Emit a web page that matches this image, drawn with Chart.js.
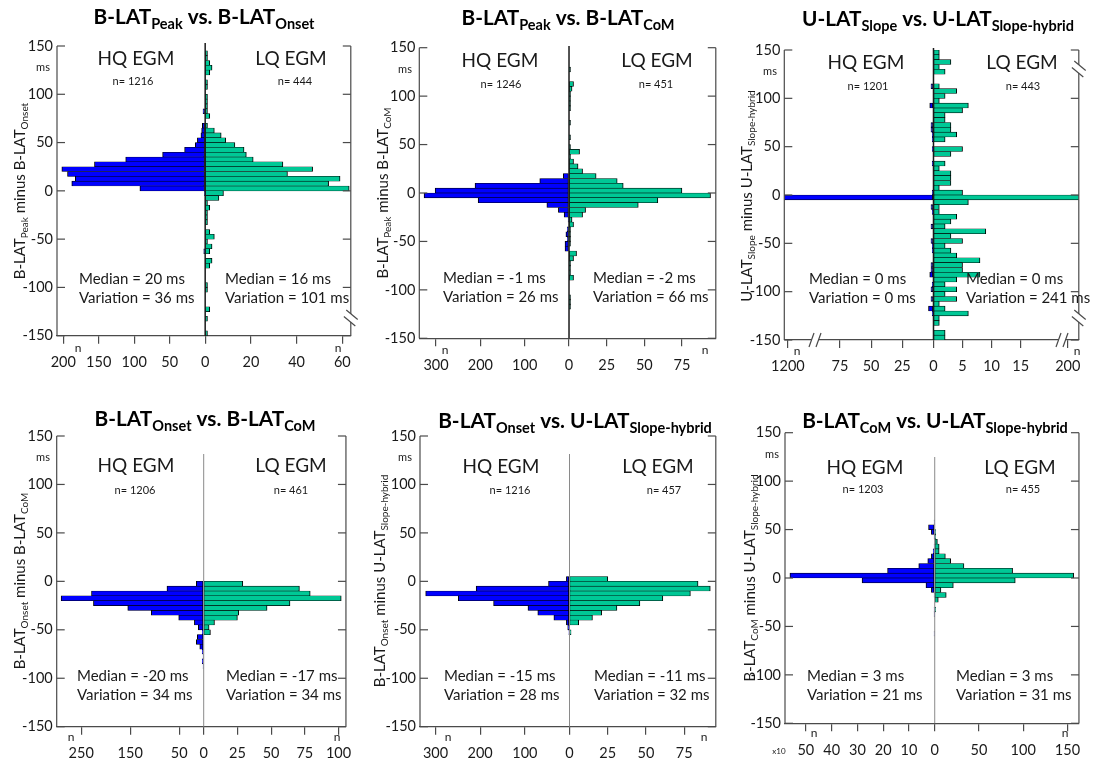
<!DOCTYPE html>
<html>
<head>
<meta charset="utf-8">
<script src="https://cdn.jsdelivr.net/npm/chart.js@4.4.1/dist/chart.umd.min.js"></script>
<style>
  html, body { margin: 0; padding: 0; background: #fff; }
  #wrap { position: relative; width: 1096px; height: 762px; overflow: hidden; }
  #wrap canvas { position: absolute; }
</style>
</head>
<body>
<div id="wrap"></div>
<script>
const FONT = 'Lato, "Open Sans", sans-serif'
const HQ_COLOR = '#0000ff'
const LQ_COLOR = '#00c896'
const AXIS_COLOR = '#4a4a4a'
const TEXT_COLOR = '#1a1a1a'

// histogram bins of 5 ms, centres from top (+150) to bottom (-150)
const BIN_CENTERS = [
  147.5, 142.5, 137.5, 132.5, 127.5, 122.5, 117.5, 112.5, 107.5, 102.5,
  97.5, 92.5, 87.5, 82.5, 77.5, 72.5, 67.5, 62.5, 57.5, 52.5,
  47.5, 42.5, 37.5, 32.5, 27.5, 22.5, 17.5, 12.5, 7.5, 2.5,
  -2.5, -7.5, -12.5, -17.5, -22.5, -27.5, -32.5, -37.5, -42.5, -47.5,
  -52.5, -57.5, -62.5, -67.5, -72.5, -77.5, -82.5, -87.5, -92.5, -97.5,
  -102.5, -107.5, -112.5, -117.5, -122.5, -127.5, -132.5, -137.5, -142.5, -147.5
]
const Y_TICKS = [-150, -100, -50, 0, 50, 100, 150]

// counts per bin (same order as BIN_CENTERS)
const P1_HQ = [
  0, 0, 0, 0, 0, 0, 0, 0, 0, 0,
  0, 0, 0, 3, 0, 0, 4, 5, 6, 11,
  14, 29, 60, 112, 156, 202, 194, 183, 188, 92,
  1, 0, 0, 0, 0, 0, 0, 0, 0, 0,
  0, 0, 2, 0, 0, 0, 0, 0, 0, 0,
  0, 0, 0, 0, 0, 0, 0, 0, 0, 0
]
const P1_LQ = [
  0, 1, 1, 2, 3, 2, 0, 1, 1, 0,
  1, 1, 1, 1, 2, 0, 1, 4, 7, 9,
  13, 17, 18, 21, 34, 47, 36, 59, 54, 63,
  8, 6, 1, 2, 1, 1, 1, 0, 2, 4,
  1, 3, 2, 0, 3, 2, 0, 0, 0, 1,
  1, 0, 0, 0, 2, 0, 1, 0, 0, 1
]
const P2_HQ = [
  0, 0, 0, 0, 0, 0, 0, 0, 0, 0,
  0, 0, 0, 0, 0, 0, 0, 0, 0, 0,
  0, 0, 0, 0, 0, 0, 13, 66, 212, 302,
  327, 205, 50, 24, 11, 2, 0, 4, 7, 4,
  9, 9, 0, 0, 0, 0, 0, 0, 0, 0,
  0, 0, 0, 0, 0, 0, 0, 0, 0, 0
]
const P2_LQ = [
  0, 0, 0, 0, 1, 0, 0, 3, 2, 1,
  1, 1, 1, 0, 0, 1, 0, 0, 1, 0,
  1, 7, 1, 3, 6, 9, 18, 32, 36, 75,
  94, 59, 46, 11, 9, 2, 3, 1, 1, 1,
  1, 0, 5, 3, 1, 1, 1, 3, 0, 0,
  0, 1, 1, 1, 0, 0, 0, 0, 0, 0
]
const P3_HQ = [
  0, 0, 0, 0, 0, 0, 0, 2, 0, 0,
  0, 3, 0, 0, 0, 2, 2, 1, 1, 0,
  1, 0, 0, 1, 0, 0, 0, 0, 0, 1,
  1190, 0, 2, 1, 0, 0, 2, 0, 0, 2,
  1, 1, 0, 0, 2, 2, 3, 0, 1, 2,
  0, 2, 0, 4, 1, 0, 0, 0, 0, 0
]
const P3_LQ = [
  1, 1, 3, 1, 2, 0, 0, 1, 4, 2,
  1, 6, 5, 2, 2, 3, 3, 4, 2, 0,
  5, 3, 0, 2, 1, 3, 3, 3, 1, 5,
  200, 6, 1, 1, 4, 3, 2, 9, 3, 5,
  2, 3, 4, 8, 5, 5, 8, 4, 2, 4,
  2, 4, 1, 2, 6, 1, 1, 0, 2, 2
]
const P4_HQ = [
  0, 0, 0, 0, 0, 0, 0, 0, 0, 0,
  0, 0, 0, 0, 0, 0, 0, 0, 0, 0,
  0, 0, 0, 0, 0, 0, 0, 0, 0, 0,
  15, 75, 229, 291, 225, 155, 107, 51, 19, 11,
  3, 13, 15, 8, 3, 1, 3, 1, 0, 0,
  0, 0, 0, 0, 0, 0, 0, 0, 0, 0
]
const P4_LQ = [
  0, 0, 0, 0, 0, 0, 0, 0, 0, 0,
  0, 0, 0, 0, 0, 0, 0, 0, 0, 0,
  0, 0, 0, 0, 0, 0, 0, 0, 0, 0,
  29, 71, 79, 102, 64, 47, 26, 25, 8, 4,
  5, 0, 0, 0, 0, 0, 0, 0, 0, 0,
  0, 0, 0, 0, 0, 0, 0, 0, 0, 0
]
const P5_HQ = [
  0, 0, 0, 0, 0, 0, 0, 0, 0, 0,
  0, 0, 0, 0, 0, 0, 0, 0, 0, 0,
  0, 0, 0, 0, 0, 0, 0, 0, 0, 7,
  47, 209, 322, 249, 170, 93, 71, 35, 7, 4,
  1, 0, 0, 0, 0, 0, 0, 0, 0, 0,
  0, 0, 0, 0, 0, 0, 0, 0, 0, 0
]
const P5_LQ = [
  0, 0, 0, 0, 0, 0, 0, 0, 0, 0,
  0, 0, 0, 0, 0, 0, 0, 0, 0, 0,
  0, 0, 0, 0, 0, 0, 0, 0, 0, 25,
  84, 92, 79, 61, 46, 31, 21, 15, 6, 0,
  1, 0, 0, 0, 0, 0, 0, 0, 0, 0,
  0, 0, 0, 0, 0, 0, 0, 0, 0, 0
]
const P6_HQ = [
  0, 0, 0, 0, 0, 0, 0, 0, 0, 0,
  0, 0, 0, 0, 0, 0, 0, 0, 2, 24,
  13, 1, 0, 2, 6, 13, 27, 62, 183, 562,
  282, 34, 13, 2, 0, 0, 2, 1, 0, 0,
  0, 2, 0, 0, 0, 0, 0, 0, 0, 0,
  0, 0, 0, 0, 0, 0, 0, 0, 0, 0
]
const P6_LQ = [
  0, 0, 0, 0, 0, 0, 0, 0, 0, 0,
  0, 0, 0, 0, 0, 0, 0, 0, 0, 0,
  1, 1, 3, 5, 5, 12, 18, 33, 88, 157,
  91, 21, 7, 13, 4, 0, 1, 0, 0, 0,
  0, 0, 0, 0, 0, 0, 0, 0, 0, 0,
  0, 0, 0, 0, 0, 0, 0, 0, 0, 0
]

const HQ_SERIES = [P1_HQ, P2_HQ, P3_HQ, P4_HQ, P5_HQ, P6_HQ]
const LQ_SERIES = [P1_LQ, P2_LQ, P3_LQ, P4_LQ, P5_LQ, P6_LQ]

// texts (_{...} marks a subscript)
const TITLES = [
  'B-LAT_{Peak} vs. B-LAT_{Onset}',
  'B-LAT_{Peak} vs. B-LAT_{CoM}',
  'U-LAT_{Slope} vs. U-LAT_{Slope-hybrid}',
  'B-LAT_{Onset} vs. B-LAT_{CoM}',
  'B-LAT_{Onset} vs. U-LAT_{Slope-hybrid}',
  'B-LAT_{CoM} vs. U-LAT_{Slope-hybrid}'
]
const Y_TITLES = [
  'B-LAT_{Peak} minus B-LAT_{Onset}',
  'B-LAT_{Peak} minus B-LAT_{CoM}',
  'U-LAT_{Slope} minus U-LAT_{Slope-hybrid}',
  'B-LAT_{Onset} minus B-LAT_{CoM}',
  'B-LAT_{Onset} minus U-LAT_{Slope-hybrid}',
  'B-LAT_{CoM} minus U-LAT_{Slope-hybrid}'
]
const N_HQ = [1216, 1246, 1201, 1206, 1216, 1203]
const N_LQ = [444, 451, 443, 461, 457, 455]
const MEDIAN_HQ = [20, -1, 0, -20, -15, 3]
const MEDIAN_LQ = [16, -2, 0, -17, -11, 3]
const VARIATION_HQ = [36, 26, 0, 34, 28, 21]
const VARIATION_LQ = [101, 66, 241, 34, 32, 31]

// x tick values (counts) for the HQ (left) and LQ (right) half axes
const HQ_TICKS = [
  [200, 150, 100, 50, 0],
  [300, 200, 100, 0],
  [75, 50, 25, 0],
  [250, 150, 50, 0],
  [300, 200, 100, 0],
  [500, 400, 300, 200, 100, 0]
]
const LQ_TICKS = [
  [20, 40, 60],
  [25, 50, 75],
  [5, 10, 15],
  [25, 50, 75, 100],
  [25, 50, 75],
  [50, 100, 150]
]
// labels at the end of broken axes (panel 3)
const BREAK_LABELS = [null, null, { hq: '1200', lq: '200' }, null, null, null]

// panel placement and geometry (pixels)
const LAYOUT = [
  { x: 0, y: 0, w: 365, h: 380, area: [57, 46, 355, 335.7], zero: 207.3, hqMax: 208.8, lqMax: 63.7,
    title: [204, 24], yTitle: [25, 191], hq: [136, 59], lq: [291, 59], nHq: [133, 81], nLq: [295, 81],
    ms: [43, 67], statHq: [79, 279], statLq: [225, 279], nMark: [78, 338, 348], centerTop: 43, dark: true,
    breakY: [318], breakX: [] },
  { x: 365, y: 0, w: 365, h: 380, area: [54.3, 47.7, 357.3, 338.3], zero: 207.3, hqMax: 337.7, lqMax: 97.5,
    title: [203, 25], yTitle: [23, 193], hq: [135, 61], lq: [292, 61], nHq: [136, 84], nLq: [291, 84],
    ms: [40, 69], statHq: [78, 278], statLq: [228, 278], nMark: [80, 340, 350], centerTop: 46, dark: true,
    breakY: [], breakX: [] },
  { x: 730, y: 0, w: 366, h: 380, area: [54.3, 50, 358.3, 340], zero: 208.3, hqMax: 119.6, lqMax: 25,
    title: [208, 26], yTitle: [22, 196], hq: [136, 63], lq: [292, 63], nHq: [138, 86], nLq: [293, 86],
    ms: [40, 71], statHq: [79, 279], statLq: [236, 279], nMark: [67, 347, 351], centerTop: 48, dark: true,
    breakY: [69, 318], breakX: [85, 332], hqBreakAt: 116.7, lqBreakAt: 23.1 },
  { x: 0, y: 380, w: 365, h: 382, area: [56.7, 56, 355, 346.7], zero: 208.3, hqMax: 300, lqMax: 105.5,
    title: [205, 46], yTitle: [25, 201], hq: [136, 86], lq: [291, 86], nHq: [135, 110], nLq: [291, 110],
    ms: [43, 77], statHq: [77, 296], statLq: [226, 296], nMark: [71, 337, 357], centerTop: 74, dark: false,
    breakY: [], breakX: [] },
  { x: 365, y: 380, w: 365, h: 382, area: [55, 56, 358.3, 346.7], zero: 208.3, hqMax: 334.7, lqMax: 95.6,
    title: [210, 48], yTitle: [20, 201], hq: [136, 87], lq: [293, 87], nHq: [145, 110], nLq: [299, 110],
    ms: [40, 77], statHq: [79, 296], statLq: [229, 296], nMark: [83, 339, 357], centerTop: 74, dark: false,
    breakY: [], breakX: [] },
  { x: 730, y: 380, w: 366, h: 382, area: [55, 52.7, 354, 343.3], zero: 207.3, hqMax: 581, lqMax: 163,
    title: [205, 48], yTitle: [25, 198], hq: [135, 88], lq: [290, 88], nHq: [133, 109], nLq: [293, 109],
    ms: [42, 74], statHq: [77, 296], statLq: [226, 296], nMark: [84, 335, 353], centerTop: 77, dark: false,
    breakY: [], breakX: [], hqDivide: 10 }
]

/**
 * Split 'B-LAT_{Peak} vs.' into plain and subscript runs
 */
function parseRich(str) {
  const parts = []
  const re = /_\{([^}]*)\}/g
  let last = 0
  let m
  while ((m = re.exec(str))) {
    if (m.index > last) parts.push({ t: str.slice(last, m.index), sub: false })
    parts.push({ t: m[1], sub: true })
    last = re.lastIndex
  }
  if (last < str.length) parts.push({ t: str.slice(last), sub: false })
  return parts
}

// draw rich text centred on x, baseline y (optionally rotated -90deg)
function drawRich(ctx, str, x, y, size, subSize, weight, rotate) {
  const parts = parseRich(str)
  const font = s => `${weight} ${s}px ${FONT}`
  let total = 0
  parts.forEach(p => {
    ctx.font = font(p.sub ? subSize : size)
    p.w = ctx.measureText(p.t).width
    total += p.w
  })
  ctx.save()
  ctx.translate(x, y)
  if (rotate) ctx.rotate(-Math.PI / 2)
  ctx.textAlign = 'left'
  ctx.textBaseline = 'alphabetic'
  let cx = -total / 2
  parts.forEach(p => {
    ctx.font = font(p.sub ? subSize : size)
    ctx.fillText(p.t, cx, p.sub ? size * 0.22 : 0)
    cx += p.w
  })
  ctx.restore()
}

function drawText(ctx, str, x, y, size, align) {
  ctx.font = `normal ${size}px ${FONT}`
  ctx.textAlign = align || 'center'
  ctx.textBaseline = 'middle'
  ctx.fillText(str, x, y)
}

function line(ctx, x1, y1, x2, y2) {
  ctx.beginPath()
  ctx.moveTo(x1, y1)
  ctx.lineTo(x2, y2)
  ctx.stroke()
}

// '//' axis break mark; horizontal = crossing the bottom axis
function breakMark(ctx, x, y, horizontal) {
  ctx.save()
  ctx.translate(x, y)
  if (!horizontal) ctx.rotate(Math.PI / 2 + 0.35)
  ctx.fillStyle = '#fff'
  ctx.beginPath()
  ctx.moveTo(-6, 7)
  ctx.lineTo(-1, -7)
  ctx.lineTo(6, -7)
  ctx.lineTo(1, 7)
  ctx.closePath()
  ctx.fill()
  ctx.strokeStyle = AXIS_COLOR
  ctx.lineWidth = 1.2
  line(ctx, -6, 7, -1, -7)
  line(ctx, 1, 7, 6, -7)
  ctx.restore()
}

function makeDecor(k) {
  const L = LAYOUT[k]
  return {
    id: 'panelDecor' + k,
    afterDatasetsDraw(chart) {
      const { ctx, chartArea: a, scales } = chart
      const zx = scales.xR.getPixelForValue(0)
      ctx.save()
      ctx.strokeStyle = L.dark ? '#1a1a1a' : '#8a8a8a'
      ctx.lineWidth = L.dark ? 1.5 : 1
      line(ctx, zx, L.centerTop, zx, a.bottom)
      ctx.restore()
    },
    afterDraw(chart) {
      const { ctx, chartArea: a, scales } = chart
      ctx.save()
      // frame: y axis line and right border with inward ticks
      ctx.strokeStyle = AXIS_COLOR
      ctx.lineWidth = 1.2
      line(ctx, a.left, a.top, a.left, a.bottom)
      line(ctx, a.right, a.top, a.right, a.bottom)
      Y_TICKS.forEach(v => {
        const py = scales.y.getPixelForValue(v)
        line(ctx, a.left, py, a.left + 8, py)
        line(ctx, a.right - 8, py, a.right, py)
      })
      L.breakY.forEach(by => breakMark(ctx, a.right, by, false))
      L.breakX.forEach(bx => breakMark(ctx, bx, a.bottom, true))

      // titles
      ctx.fillStyle = '#000'
      drawRich(ctx, TITLES[k], L.title[0], L.title[1], 20.8, 14.5, 'bold', false)
      ctx.fillStyle = TEXT_COLOR
      drawRich(ctx, Y_TITLES[k], L.yTitle[0], L.yTitle[1], 15, 10, 'normal', true)

      drawText(ctx, 'HQ EGM', L.hq[0], L.hq[1], 19)
      drawText(ctx, 'LQ EGM', L.lq[0], L.lq[1], 19)
      drawText(ctx, 'n= ' + N_HQ[k], L.nHq[0], L.nHq[1], 11)
      drawText(ctx, 'n= ' + N_LQ[k], L.nLq[0], L.nLq[1], 11)
      drawText(ctx, 'ms', L.ms[0], L.ms[1], 11)

      drawText(ctx, `Median = ${MEDIAN_HQ[k]} ms`, L.statHq[0], L.statHq[1], 15, 'left')
      drawText(ctx, `Variation = ${VARIATION_HQ[k]} ms`, L.statHq[0], L.statHq[1] + 19, 15, 'left')
      drawText(ctx, `Median = ${MEDIAN_LQ[k]} ms`, L.statLq[0], L.statLq[1], 15, 'left')
      drawText(ctx, `Variation = ${VARIATION_LQ[k]} ms`, L.statLq[0], L.statLq[1] + 19, 15, 'left')

      drawText(ctx, 'n', L.nMark[0], L.nMark[2], 12)
      drawText(ctx, 'n', L.nMark[1], L.nMark[2], 12)
      if (L.hqDivide) drawText(ctx, 'x' + L.hqDivide, 49, 371, 8)
      ctx.restore()
    }
  }
}

function toPoints(counts) {
  return BIN_CENTERS
    .map((c, i) => ({ x: counts[i], y: c }))
    .filter(p => p.x > 0)
}

function tickFont() {
  return { family: FONT, size: 14.5 }
}

function renderPanel(k) {
  const L = LAYOUT[k]
  const canvas = document.createElement('canvas')
  canvas.width = L.w
  canvas.height = L.h
  canvas.style.left = L.x + 'px'
  canvas.style.top = L.y + 'px'
  document.getElementById('wrap').appendChild(canvas)

  const [aLeft, aTop, aRight, aBottom] = L.area
  const axisH = L.h - aBottom
  const brk = BREAK_LABELS[k]

  const hqTicks = HQ_TICKS[k].slice()
  const lqTicks = LQ_TICKS[k].slice()
  if (brk) {
    hqTicks.unshift(L.hqBreakAt)
    lqTicks.push(L.lqBreakAt)
  }

  // adjacent bins share one outline line
  const barStyle = {
    borderColor: '#000',
    borderWidth: { top: 0.55, bottom: 0.55, left: 1, right: 1 },
    borderSkipped: false,
    barPercentage: 1,
    categoryPercentage: 1,
    grouped: false
  }

  const xBase = {
    type: 'linear',
    position: 'bottom',
    stack: 'half',
    min: 0,
    offset: false,
    afterFit: s => { s.height = axisH },
    grid: { display: true, drawOnChartArea: false, drawTicks: true, tickLength: 8, color: AXIS_COLOR, lineWidth: 1.2 },
    border: { display: true, color: AXIS_COLOR, width: 1.2 },
    ticks: { autoSkip: false, maxRotation: 0, minRotation: 0, padding: 10, color: TEXT_COLOR, font: tickFont() }
  }

  return new Chart(canvas.getContext('2d'), {
    type: 'bar',
    data: {
      datasets: [
        { label: 'HQ EGM', xAxisID: 'xL', yAxisID: 'y', data: toPoints(HQ_SERIES[k]), backgroundColor: HQ_COLOR, ...barStyle },
        { label: 'LQ EGM', xAxisID: 'xR', yAxisID: 'y', data: toPoints(LQ_SERIES[k]), backgroundColor: LQ_COLOR, ...barStyle }
      ]
    },
    options: {
      indexAxis: 'y',
      responsive: false,
      animation: false,
      devicePixelRatio: 1,
      layout: { padding: { left: 0, top: aTop, right: L.w - aRight, bottom: 0 } },
      plugins: { legend: { display: false }, tooltip: { enabled: false }, title: { display: false } },
      scales: {
        xL: {
          ...xBase,
          weight: 0,
          stackWeight: L.zero - aLeft,
          reverse: true,
          max: L.hqMax,
          afterBuildTicks: s => { s.ticks = hqTicks.map(v => ({ value: v })) },
          ticks: {
            ...xBase.ticks,
            callback: v => {
              if (brk && v === L.hqBreakAt) return brk.hq
              return L.hqDivide ? v / L.hqDivide : v
            }
          }
        },
        xR: {
          ...xBase,
          weight: 1,
          stackWeight: aRight - L.zero,
          max: L.lqMax,
          afterBuildTicks: s => { s.ticks = lqTicks.map(v => ({ value: v })) },
          ticks: {
            ...xBase.ticks,
            callback: v => (brk && v === L.lqBreakAt) ? brk.lq : v
          }
        },
        y: {
          type: 'linear',
          position: 'left',
          min: -150,
          max: 150,
          offset: false,
          afterFit: s => { s.width = aLeft },
          afterBuildTicks: s => { s.ticks = Y_TICKS.map(v => ({ value: v })) },
          grid: { display: false, drawTicks: false, offset: false },
          border: { display: false },
          ticks: { padding: 4, color: TEXT_COLOR, font: tickFont() }
        }
      }
    },
    plugins: [makeDecor(k)]
  })
}

LAYOUT.forEach((_, k) => renderPanel(k))
</script>
</body>
</html>
